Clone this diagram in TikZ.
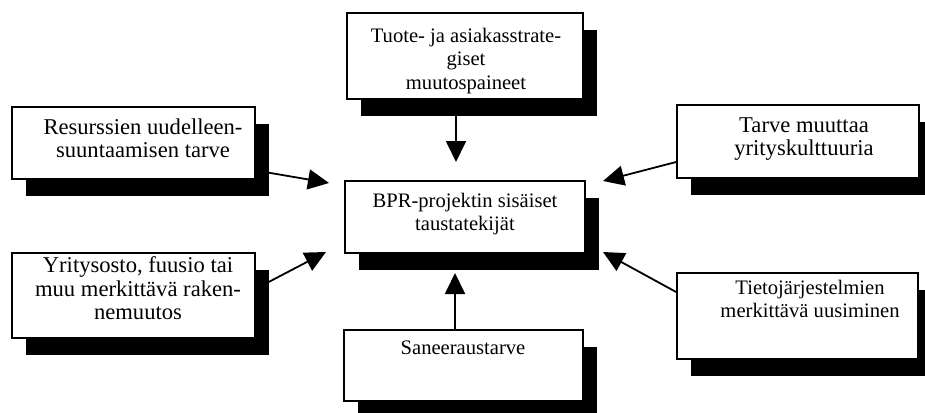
\documentclass[tikz,border=0pt]{standalone}
\usepackage{fontspec}
\setmainfont{Liberation Serif}
\usetikzlibrary{arrows.meta,shadows,calc}
\tikzset{
  box/.style={draw, line width=1.8pt, fill=white, inner sep=0pt,
    drop shadow={shadow xshift=14pt, shadow yshift=-17pt, fill=black, opacity=1}},
  lbl/.style={anchor=north, inner sep=0pt, align=center,
    font=\fontsize{20.6}{23.5}\selectfont},
  lblbig/.style={lbl, font=\fontsize{22.6}{23.5}\selectfont},
  arr/.style={line width=1.8pt, -{Triangle[length=21pt,width=20pt]}},
}
\begin{document}
\begin{tikzpicture}[x=1pt,y=-1pt]
\useasboundingbox (0,0) rectangle (925,412);

% boxes with solid drop shadows
\node[box, minimum width=236pt, minimum height=86pt] (T)  at (465,56) {};
\node[box, minimum width=243pt, minimum height=72pt] (L1) at (133.5,143) {};
\node[box, minimum width=242pt, minimum height=73pt] (R1) at (798,141.5) {};
\node[box, minimum width=243pt, minimum height=85pt] (L2) at (133.5,295.5) {};
\node[box, minimum width=241pt, minimum height=86pt] (R2) at (797.5,316) {};
\node[box, minimum width=239pt, minimum height=71pt] (B)  at (463.5,365.5) {};
\node[box, minimum width=240pt, minimum height=72pt] (C)  at (465,217) {};

% box texts
\node[lbl]    (Ttxt)  at (466,25.5)  {\strut Tuote- ja asiakasstrate-\\giset\\muutospaineet};
\node[lblbig] (L1txt) at (143,117.5) {\strut Resurssien uudelleen-\\suuntaamisen tarve};
\node[lbl]    (Ctxt)  at (465,190.5) {\strut BPR-projektin sisäiset\\taustatekijät};
\node[lblbig] (R1txt) at (804,115.5) {\strut Tarve muuttaa\\yrityskulttuuria};
\node[lblbig] (L2txt) at (138,256) {\strut Yritysosto, fuusio tai\\muu merkittävä raken-\\nemuutos};
\node[lbl]    (R2txt) at (810,277.5) {\strut Tietojärjestelmien\\merkittävä uusiminen};
\node[lbl]    (Btxt)  at (463,337.5) {\strut Saneeraustarve};

% arrow tips around the central box
\coordinate (tT)  at (456,162);
\coordinate (tB)  at (455,273);
\coordinate (tL1) at (329,183);
\coordinate (tR1) at (603,181);
\coordinate (tL2) at (326,252);
\coordinate (tR2) at (603,252);

% connectors
\draw[arr] (T.south -| tT) -- (tT);
\draw[arr] (B.north -| tB) -- (tB);
\draw[arr] ($(L1.east)+(0,27.5)$) -- (tL1);
\draw[arr] ($(R1.west)+(0,20.5)$) -- (tR1);
\draw[arr] ($(L2.east)+(0,-6.8)$) -- (tL2);
\draw[arr] ($(R2.west)+(0,-24)$) -- (tR2);
\end{tikzpicture}
\end{document}
